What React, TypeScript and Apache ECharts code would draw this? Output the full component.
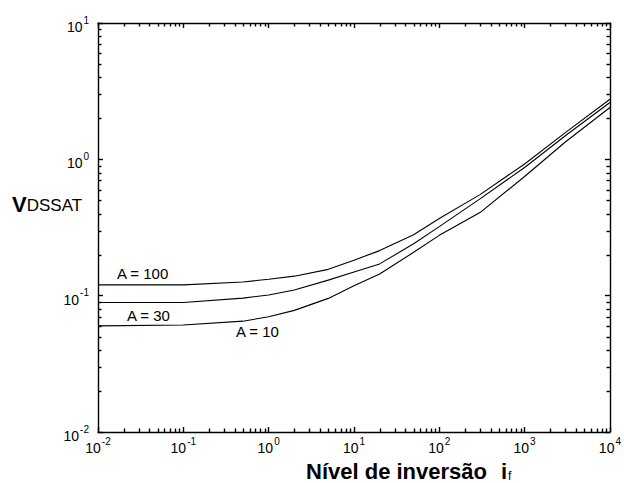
import React, { useEffect, useRef } from "react";
import * as echarts from "echarts";

// Inversion level i_f (x) and V_DSSAT (y) for each A
const xs = [0.01, 0.1, 0.5, 1, 2, 5, 10, 20, 50, 100, 300, 1000, 3000, 10000];
const a100 = [0.12, 0.12, 0.126, 0.132, 0.139, 0.156, 0.182, 0.214, 0.28, 0.368, 0.551, 0.924, 1.57, 2.76];
const a30 = [0.089, 0.089, 0.096, 0.101, 0.11, 0.13, 0.149, 0.171, 0.24, 0.321, 0.513, 0.872, 1.49, 2.61];
const a10 = [0.06, 0.061, 0.065, 0.07, 0.078, 0.0955, 0.118, 0.144, 0.208, 0.277, 0.407, 0.748, 1.34, 2.4];

const X_MIN = 0.01;
const X_MAX = 10000;
const Y_MIN = 0.01;
const Y_MAX = 10;

const xDecades = [-2, -1, 0, 1, 2, 3];
const yDecades = [-2, -1, 0];
const mantissas = [2, 3, 4, 5, 6, 7, 8, 9];

const FONT = "'Liberation Sans', Arial, Helvetica, sans-serif";

export default function App() {
  const ref = useRef<HTMLDivElement>(null);

  useEffect(() => {
    if (!ref.current) return;
    const chart = echarts.init(ref.current, undefined, { renderer: "svg" });

    const xMinor: number[][] = [];
    xDecades.forEach((d) => mantissas.forEach((m) => xMinor.push([m * Math.pow(10, d), 1])));
    const yMinor: number[][] = [];
    yDecades.forEach((d) => mantissas.forEach((m) => yMinor.push([1, m * Math.pow(10, d)])));

    const labelFmt = (v: number) => `{b|10}{s|${Math.round(Math.log10(v))}}`;
    const rich = {
      b: { fontSize: 14, fontFamily: FONT, color: "#000", lineHeight: 22, verticalAlign: "bottom" },
      s: { fontSize: 10, fontFamily: FONT, color: "#000", lineHeight: 22, verticalAlign: "bottom", padding: [0, 0, 9, 1] },
    };

    const axisCommon = {
      type: "log" as const,
      logBase: 10,
      axisLine: { show: true, onZero: false, lineStyle: { color: "#000", width: 1.4 } },
      axisTick: { show: true, inside: true, length: 5, lineStyle: { color: "#000", width: 1.4 } },
      splitLine: { show: false },
      minorTick: { show: false },
    };

    const lineSeries = (vals: number[]) => ({
      type: "line",
      xAxisIndex: 0,
      yAxisIndex: 0,
      data: xs.map((x, i) => [x, vals[i]]),
      showSymbol: false,
      symbol: "none",
      lineStyle: { color: "#000", width: 1.1 },
      silent: true,
    });

    const tick = (x1: number, y1: number, x2: number, y2: number) => ({
      type: "line",
      shape: { x1, y1, x2, y2 },
      style: { stroke: "#000", lineWidth: 1.4 },
    });

    chart.setOption({
      animation: false,
      backgroundColor: "#fff",
      grid: { left: 98, top: 23, right: 9, bottom: 51, containLabel: false },
      xAxis: [
        {
          ...axisCommon,
          position: "bottom",
          min: X_MIN,
          max: X_MAX,
          axisLabel: { show: true, margin: 1, formatter: labelFmt, rich },
        },
        {
          ...axisCommon,
          position: "top",
          min: X_MIN,
          max: X_MAX,
          axisLabel: { show: false },
        },
      ],
      yAxis: [
        {
          ...axisCommon,
          position: "left",
          min: Y_MIN,
          max: Y_MAX,
          axisLabel: { show: true, margin: 9, formatter: labelFmt, rich },
        },
        {
          ...axisCommon,
          position: "right",
          min: Y_MIN,
          max: Y_MAX,
          axisLabel: { show: false },
        },
      ],
      series: [
        lineSeries(a100),
        lineSeries(a30),
        lineSeries(a10),
        {
          type: "custom",
          coordinateSystem: "cartesian2d",
          xAxisIndex: 0,
          yAxisIndex: 0,
          data: xMinor,
          encode: { x: 0, y: 1 },
          clip: false,
          silent: true,
          z: 5,
          renderItem: (params: any, api: any) => {
            const v = api.value(0);
            const pb = api.coord([v, Y_MIN]);
            const pt = api.coord([v, Y_MAX]);
            const xx = Math.round(pb[0]) + 0.5;
            return {
              type: "group",
              children: [tick(xx, pb[1], xx, pb[1] - 3.5), tick(xx, pt[1], xx, pt[1] + 3.5)],
            };
          },
        },
        {
          type: "custom",
          coordinateSystem: "cartesian2d",
          xAxisIndex: 0,
          yAxisIndex: 0,
          data: yMinor,
          encode: { x: 0, y: 1 },
          clip: false,
          silent: true,
          z: 5,
          renderItem: (params: any, api: any) => {
            const v = api.value(1);
            const pl = api.coord([X_MIN, v]);
            const pr = api.coord([X_MAX, v]);
            const yy = Math.round(pl[1]) + 0.5;
            return {
              type: "group",
              children: [tick(pl[0], yy, pl[0] + 3.5, yy), tick(pr[0], yy, pr[0] - 3.5, yy)],
            };
          },
        },
      ],
      graphic: [
        { type: "text", left: 117, top: 266, style: { text: "A = 100", font: `15px ${FONT}`, fill: "#000" } },
        { type: "text", left: 127, top: 308, style: { text: "A = 30", font: `15px ${FONT}`, fill: "#000" } },
        { type: "text", left: 236, top: 324, style: { text: "A = 10", font: `15px ${FONT}`, fill: "#000" } },
        {
          type: "text",
          left: 12,
          top: 193,
          style: {
            text: "{v|V}{d|DSSAT}",
            rich: {
              v: { fontSize: 22, fontWeight: "bold", fontFamily: FONT, fill: "#000", verticalAlign: "bottom", lineHeight: 24 },
              d: { fontSize: 17, fontFamily: FONT, fill: "#000", verticalAlign: "bottom", lineHeight: 24, padding: [0, 0, 1, 0] },
            },
          },
        },
        {
          type: "text",
          left: 306,
          top: 460,
          style: {
            text: "{n|Nível de inversão}{i|i}{f|f}",
            rich: {
              n: { fontSize: 22, fontWeight: "bold", fontFamily: FONT, fill: "#000", verticalAlign: "bottom", lineHeight: 24 },
              i: { fontSize: 22, fontWeight: "bold", fontFamily: FONT, fill: "#000", verticalAlign: "bottom", lineHeight: 24, padding: [0, 0, 0, 14] },
              f: { fontSize: 12, fontFamily: FONT, fill: "#000", verticalAlign: "bottom", lineHeight: 24, padding: [0, 0, 0, 1] },
            },
          },
        },
      ],
    });

    return () => chart.dispose();
  }, []);

  return <div ref={ref} style={{ width: 624, height: 483, position: "absolute", left: 0, top: 0 }} />;
}
